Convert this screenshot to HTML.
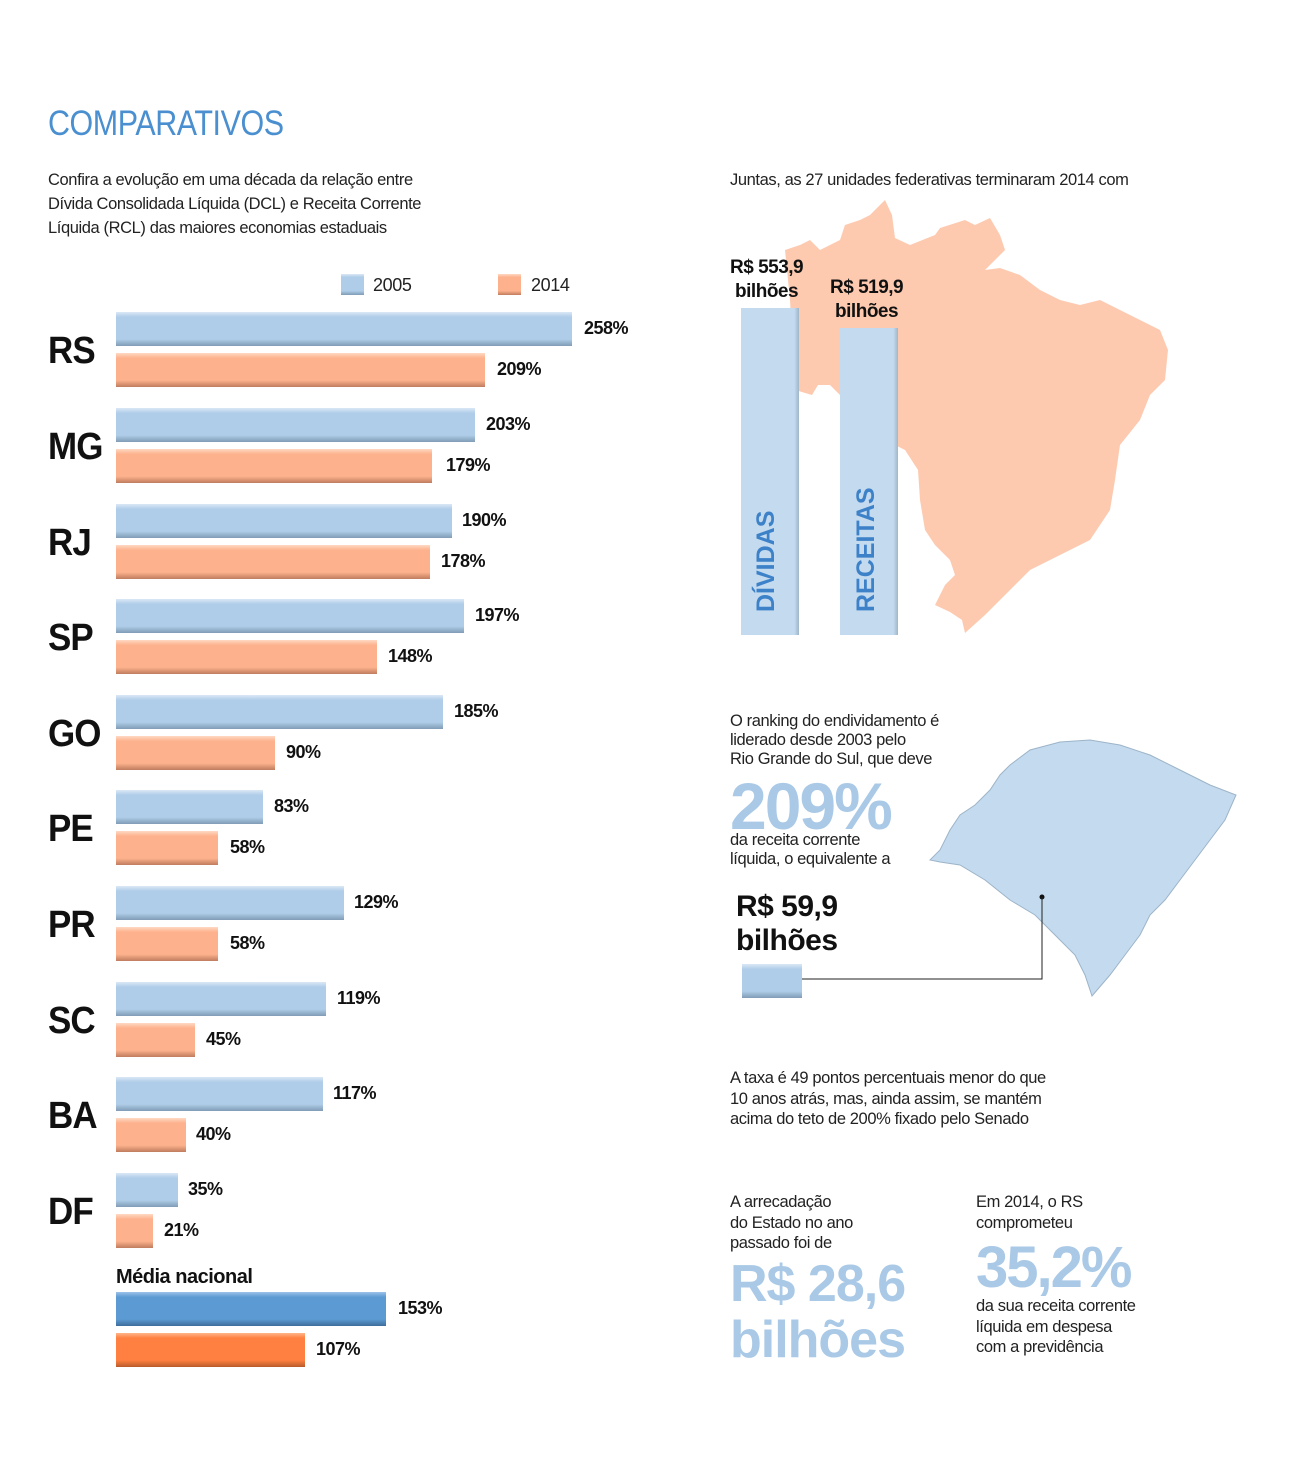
<!DOCTYPE html><html><head><meta charset="utf-8"><style>
body{margin:0;width:1292px;height:1459px;background:#fff;font-family:"Liberation Sans",sans-serif;position:relative;overflow:hidden}
.a{position:absolute;white-space:nowrap}
.t{font-size:16.5px;color:#222;line-height:24px;letter-spacing:-0.4px}
.st{font-size:38px;font-weight:bold;color:#111;letter-spacing:-1px;transform:scaleX(0.92);transform-origin:0 0}
.v{font-size:18px;font-weight:bold;color:#111;letter-spacing:-0.5px}
.b{position:absolute;height:34px;left:116px}
.bl{background:linear-gradient(#dbe8f5 0,#afcde8 15%,#afcde8 80%,#7f9bb5 100%)}
.or{background:linear-gradient(#ffd9c4 0,#fdb28d 15%,#fdb28d 80%,#c07c5e 100%)}
</style></head><body>
<div class="a" style="left:48px;top:104px;font-size:35px;color:#4a8fd0;letter-spacing:-0.5px;transform:scaleX(0.87);transform-origin:0 0">COMPARATIVOS</div>
<div class="a t" style="left:48px;top:168px">Confira a evolução em uma década da relação entre<br>Dívida Consolidada Líquida (DCL) e Receita Corrente<br>Líquida (RCL) das maiores economias estaduais</div>
<div class="a bl" style="left:341px;top:274px;width:23px;height:21px"></div>
<div class="a t" style="left:373px;top:273px;font-size:18px">2005</div>
<div class="a or" style="left:498px;top:274px;width:23px;height:21px"></div>
<div class="a t" style="left:531px;top:273px;font-size:18px">2014</div>

<div class="b bl" style="top:312px;width:456px"></div><div class="a v" style="left:584px;top:318px">258%</div>
<div class="b or" style="top:353px;width:369px"></div><div class="a v" style="left:497px;top:359px">209%</div>
<div class="a st" style="left:48px;top:330px">RS</div>
<div class="b bl" style="top:408px;width:359px"></div><div class="a v" style="left:486px;top:414px">203%</div>
<div class="b or" style="top:449px;width:316px"></div><div class="a v" style="left:446px;top:455px">179%</div>
<div class="a st" style="left:48px;top:426px">MG</div>
<div class="b bl" style="top:504px;width:336px"></div><div class="a v" style="left:462px;top:510px">190%</div>
<div class="b or" style="top:545px;width:314px"></div><div class="a v" style="left:441px;top:551px">178%</div>
<div class="a st" style="left:48px;top:522px">RJ</div>
<div class="b bl" style="top:599px;width:348px"></div><div class="a v" style="left:475px;top:605px">197%</div>
<div class="b or" style="top:640px;width:261px"></div><div class="a v" style="left:388px;top:646px">148%</div>
<div class="a st" style="left:48px;top:617px">SP</div>
<div class="b bl" style="top:695px;width:327px"></div><div class="a v" style="left:454px;top:701px">185%</div>
<div class="b or" style="top:736px;width:159px"></div><div class="a v" style="left:286px;top:742px">90%</div>
<div class="a st" style="left:48px;top:713px">GO</div>
<div class="b bl" style="top:790px;width:147px"></div><div class="a v" style="left:274px;top:796px">83%</div>
<div class="b or" style="top:831px;width:102px"></div><div class="a v" style="left:230px;top:837px">58%</div>
<div class="a st" style="left:48px;top:808px">PE</div>
<div class="b bl" style="top:886px;width:228px"></div><div class="a v" style="left:354px;top:892px">129%</div>
<div class="b or" style="top:927px;width:102px"></div><div class="a v" style="left:230px;top:933px">58%</div>
<div class="a st" style="left:48px;top:904px">PR</div>
<div class="b bl" style="top:982px;width:210px"></div><div class="a v" style="left:337px;top:988px">119%</div>
<div class="b or" style="top:1023px;width:79px"></div><div class="a v" style="left:206px;top:1029px">45%</div>
<div class="a st" style="left:48px;top:1000px">SC</div>
<div class="b bl" style="top:1077px;width:207px"></div><div class="a v" style="left:333px;top:1083px">117%</div>
<div class="b or" style="top:1118px;width:70px"></div><div class="a v" style="left:196px;top:1124px">40%</div>
<div class="a st" style="left:48px;top:1095px">BA</div>
<div class="b bl" style="top:1173px;width:62px"></div><div class="a v" style="left:188px;top:1179px">35%</div>
<div class="b or" style="top:1214px;width:37px"></div><div class="a v" style="left:164px;top:1220px">21%</div>
<div class="a st" style="left:48px;top:1191px">DF</div>
<div class="a v" style="left:116px;top:1266px;font-size:20px">Média nacional</div>
<div class="b" style="top:1292px;width:270px;background:linear-gradient(#9cc2e8 0,#5c9ad3 15%,#5c9ad3 80%,#3d6d9c 100%)"></div><div class="a v" style="left:398px;top:1298px">153%</div>
<div class="b" style="top:1333px;width:189px;background:linear-gradient(#ffb58a 0,#ff8040 15%,#ff8040 80%,#b85a2a 100%)"></div><div class="a v" style="left:316px;top:1339px">107%</div>

<div class="a t" style="left:730px;top:168px">Juntas, as 27 unidades federativas terminaram 2014 com</div>
<svg class="a" style="left:0;top:0" width="1292" height="1459">
<polygon fill="#fdcab0" points="785,250 800,245 810,240 820,250 840,240 845,225 860,220 870,215 885,200 892,215 895,238 910,245 935,235 940,228 965,220 975,225 990,218 1000,235 1005,250 985,270 1000,268 1020,275 1040,290 1060,300 1080,305 1100,300 1120,310 1140,320 1160,330 1168,350 1165,380 1150,395 1140,420 1120,445 1115,480 1110,510 1090,540 1060,555 1030,570 1010,590 1000,600 985,615 965,633 962,620 950,612 935,605 945,585 955,575 950,560 935,545 925,530 920,500 918,470 905,450 895,445 895,400 840,395 830,385 818,385 812,395 795,390 790,300"/>
<polygon fill="#c3daef" stroke="#9db4c8" stroke-width="1" points="930,860 940,850 950,830 960,815 975,805 990,790 1000,775 1010,765 1030,750 1060,742 1090,740 1120,745 1150,755 1180,770 1210,785 1236,795 1225,820 1210,840 1195,860 1180,880 1165,900 1150,915 1140,935 1125,955 1110,975 1092,996 1085,975 1075,955 1055,935 1035,915 1010,900 985,880 960,865 940,862"/>
<circle cx="1042" cy="897" r="2.5" fill="#111"/>
<polyline points="1042,897 1042,979 802,979" fill="none" stroke="#222" stroke-width="1"/>
</svg>
<div class="a" style="left:741px;top:308px;width:58px;height:327px;background:linear-gradient(90deg,#c3daef 0,#c3daef 92%,#9fb5c8 100%)"></div>
<div class="a" style="left:840px;top:328px;width:58px;height:307px;background:linear-gradient(90deg,#c3daef 0,#c3daef 92%,#9fb5c8 100%)"></div>
<div class="a" style="left:752px;top:612px;transform:rotate(-90deg);transform-origin:0 0;font-size:25px;font-weight:bold;color:#3d82c8">DÍVIDAS</div>
<div class="a" style="left:852px;top:612px;transform:rotate(-90deg);transform-origin:0 0;font-size:25px;font-weight:bold;color:#3d82c8">RECEITAS</div>
<div class="a v" style="left:730px;top:256px;text-align:center;line-height:24px;font-size:19px">R$ 553,9<br>bilhões</div>
<div class="a v" style="left:830px;top:276px;text-align:center;line-height:24px;font-size:19px">R$ 519,9<br>bilhões</div>

<div class="a t" style="left:730px;top:712px;line-height:19px">O ranking do endividamento é<br>liderado desde 2003 pelo<br>Rio Grande do Sul, que deve</div>
<div class="a" style="left:730px;top:768px;font-size:66px;font-weight:bold;color:#a9c9e6;letter-spacing:-2px">209%</div>
<div class="a t" style="left:730px;top:831px;line-height:19px">da receita corrente<br>líquida, o equivalente a</div>
<div class="a v" style="left:736px;top:890px;font-size:30px;line-height:34px">R$ 59,9<br>bilhões</div>
<div class="a bl" style="left:742px;top:964px;width:60px;height:34px"></div>
<div class="a t" style="left:730px;top:1068px;line-height:20.5px">A taxa é 49 pontos percentuais menor do que<br>10 anos atrás, mas, ainda assim, se mantém<br>acima do teto de 200% fixado pelo Senado</div>
<div class="a t" style="left:730px;top:1192px;line-height:20.5px">A arrecadação<br>do Estado no ano<br>passado foi de</div>
<div class="a" style="left:730px;top:1256px;font-size:52px;font-weight:bold;color:#a9c9e6;line-height:56px;letter-spacing:-1px">R$ 28,6<br>bilhões</div>
<div class="a t" style="left:976px;top:1192px;line-height:20.5px">Em 2014, o RS<br>comprometeu</div>
<div class="a" style="left:976px;top:1234px;font-size:58px;font-weight:bold;color:#a9c9e6;letter-spacing:-2px">35,2%</div>
<div class="a t" style="left:976px;top:1296px;line-height:20.5px">da sua receita corrente<br>líquida em despesa<br>com a previdência</div>
</body></html>
